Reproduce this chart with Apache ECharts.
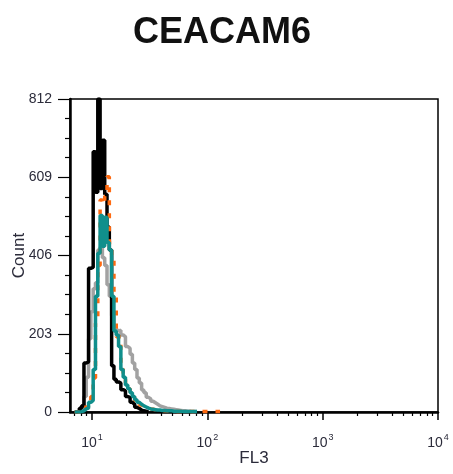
<!DOCTYPE html>
<html>
<head>
<meta charset="utf-8">
<script src="https://cdn.jsdelivr.net/npm/echarts@6/dist/echarts.min.js"></script>
<style>
  html, body { margin: 0; padding: 0; background: #fff; }
  #chart { width: 453px; height: 474px; }
</style>
</head>
<body>
<div id="chart"></div>
<script>
// Histogram bin starts, in log10(FL3) units
const channelLog = [0.85,0.87,0.89,0.91,0.93,0.95,0.97,0.99,1.01,1.03,1.05,1.07,1.09,1.11,1.13,1.15,1.17,1.19,1.21,1.23,1.25,1.27,1.29,1.31,1.33,1.35,1.37,1.39,1.41,1.43,1.45,1.47,1.49,1.51,1.53,1.55,1.57,1.59,1.61,1.63,1.65,1.67,1.69,1.71,1.73,1.75,1.77,1.79,1.81,1.83,1.85,1.87,1.89,1.91,1.93,1.95,1.97,1.99,2.01,2.03,2.05,2.07,2.09,2.11,2.13];

const blackCounts = [0,3,10,16,127,130,373,375,675,570,812,580,705,565,480,420,120,85,78,75,58,55,40,38,25,20,12,9,5,3,2,1,0,0,0,0,0,0,0,0,0,0,0,0,0,0,0,0,0,0,0,0,0,0,0,0,0,0,0,0,0,0,0,0,0];
const grayCounts = [0,0,2,8,40,90,190,260,320,335,420,428,400,380,330,300,250,215,210,212,200,195,170,165,150,127,110,88,75,57,50,38,34,28,24,20,16,14,12,10,9,8,7,6,5,4,3,3,2,2,1,1,1,0,0,0,0,0,0,0,0,0,0,0,0];
const orangeCounts = [0,0,1,3,12,15,30,40,88,230,380,550,540,560,610,440,400,300,195,195,120,95,75,60,48,38,30,24,18,14,12,10,8,7,6,5,4,4,3,3,3,2,2,1,1,1,1,1,1,1,1,1,1,1,1,1,1,1,1,1,1,1,1,0,0];
const tealCounts = [0,0,1,3,8,10,25,30,110,300,412,510,430,505,440,420,300,210,200,170,110,90,70,60,50,40,32,25,20,16,13,10,8,7,6,5,5,4,4,3,3,3,2,2,2,2,1,1,1,1,1,1,1,0,0,0,0,0,0,0,0,0,0,0,0];

const yTicks = [0, 203, 406, 609, 812];
const xDecades = [1, 2, 3, 4];              // 10^1 .. 10^4
const xMinorFL3 = [7,8,9,20,30,40,50,60,70,80,90,200,300,400,500,600,700,800,900,2000,3000,4000,5000,6000,7000,8000,9000];
const xMinLog = 0.809, xMaxLog = 4;

const FONT = 'Liberation Sans, Arial, sans-serif';
const LABEL_COLOR = '#2b2b3a';

// pair bin starts with counts; stop one bin after the last non-zero count
function pairs(counts) {
  let last = counts.length - 1;
  while (last > 0 && counts[last] === 0) last--;
  const end = Math.min(last + 1, counts.length - 1);
  return channelLog.slice(0, end + 1).map((x, i) => [x, counts[i]]);
}

const chart = echarts.init(document.getElementById('chart'), null, { renderer: 'canvas' });

const option = {
  animation: false,
  backgroundColor: '#ffffff',
  title: {
    text: 'CEACAM6',
    left: 128,
    top: 10,
    textStyle: { fontFamily: FONT, fontSize: 36, fontWeight: 'bold', color: '#111' }
  },
  grid: {
    left: 70, right: 15, top: 99, bottom: 62,
    containLabel: false,
    outerBoundsMode: 'none',
    show: true, borderColor: '#000', borderWidth: 1.5, backgroundColor: 'transparent'
  },
  xAxis: [
    {
      type: 'value', min: xMinLog, max: xMaxLog,
      axisLine: { show: true, lineStyle: { color: '#000', width: 2.5 } },
      axisTick: { show: true, customValues: xDecades, length: 8, lineStyle: { color: '#000', width: 1.5 } },
      splitLine: { show: false },
      axisLabel: {
        customValues: xDecades,
        margin: 21,
        color: LABEL_COLOR,
        fontFamily: FONT,
        formatter: function (v) { return '{b|10}{e|' + Math.round(v) + '}'; },
        rich: {
          b: { fontSize: 14, fontFamily: FONT, color: LABEL_COLOR, verticalAlign: 'bottom' },
          e: { fontSize: 9, fontFamily: FONT, color: LABEL_COLOR, padding: [0, 0, 8, 1] }
        }
      },
      name: 'FL3', nameLocation: 'middle', nameGap: 38, nameMoveOverlap: false,
      nameTextStyle: { fontFamily: FONT, fontSize: 17, color: LABEL_COLOR }
    },
    {
      type: 'value', min: xMinLog, max: xMaxLog, gridIndex: 0, position: 'bottom',
      axisLine: { show: false },
      axisTick: { show: true, customValues: xMinorFL3.map(v => Math.log10(v)), length: 4, lineStyle: { color: '#000', width: 1.2 } },
      axisLabel: { show: false },
      splitLine: { show: false }
    }
  ],
  yAxis: {
    type: 'value', min: yTicks[0], max: yTicks[yTicks.length - 1], interval: yTicks[1] - yTicks[0],
    axisLine: { show: true, lineStyle: { color: '#000', width: 2.5 } },
    axisTick: { show: true, length: 12, lineStyle: { color: '#000', width: 1.2 } },
    minorTick: { show: true, splitNumber: 4, length: 5, lineStyle: { color: '#000', width: 1.2 } },
    splitLine: { show: false },
    axisLabel: { margin: 18, fontSize: 14, fontFamily: FONT, color: LABEL_COLOR },
    name: 'Count', nameLocation: 'middle', nameRotate: 90, nameGap: 42, nameMoveOverlap: false,
    nameTextStyle: { fontFamily: FONT, fontSize: 17, color: LABEL_COLOR }
  },
  series: [
    { name: 'gray', type: 'line', step: 'end', symbol: 'none', data: pairs(grayCounts),
      lineStyle: { color: '#a2a2a2', width: 3.5 }, z: 2 },
    { name: 'black', type: 'line', step: 'end', symbol: 'none', data: pairs(blackCounts),
      lineStyle: { color: '#000000', width: 3.5 }, z: 3 },
    { name: 'orange', type: 'line', step: 'end', symbol: 'none', data: pairs(orangeCounts),
      lineStyle: { color: '#ff6a10', width: 3.5, type: [5, 8] }, z: 4 },
    { name: 'teal', type: 'line', step: 'end', symbol: 'none', data: pairs(tealCounts),
      lineStyle: { color: '#108f8c', width: 3.5 }, z: 5 }
  ]
};

chart.setOption(option);
</script>
</body>
</html>
